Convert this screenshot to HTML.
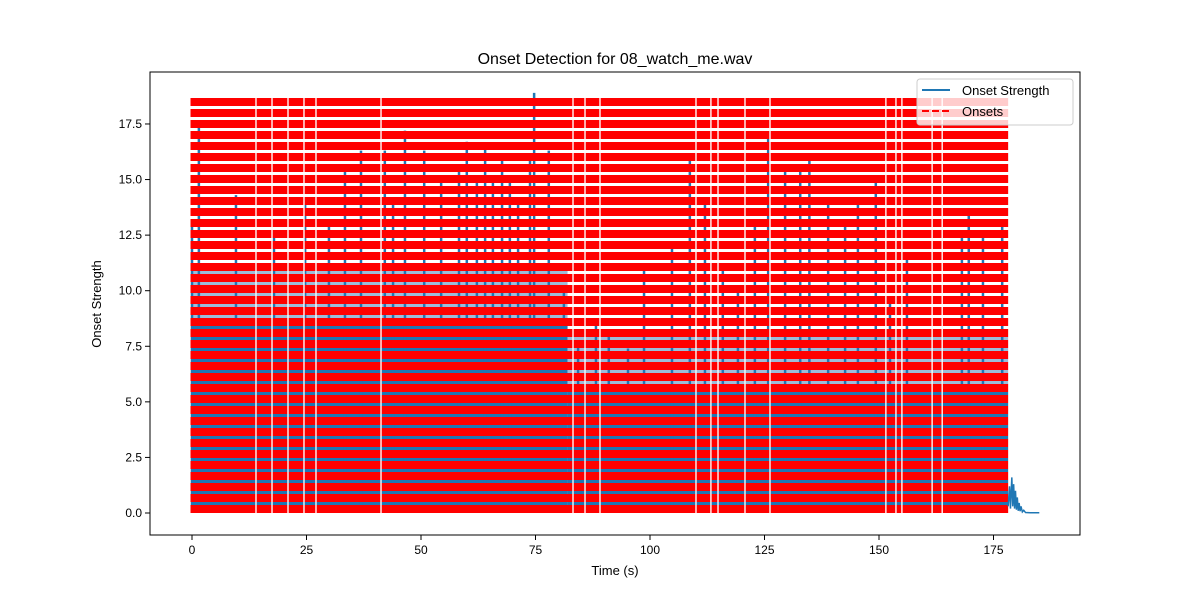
<!DOCTYPE html>
<html><head><meta charset="utf-8"><style>
body{margin:0;background:#fff;}
svg{display:block;font-family:"Liberation Sans","DejaVu Sans",sans-serif;}
</style></head><body>
<svg id="chart" width="1200" height="600" viewBox="0 0 1200 600">
<rect width="1200" height="600" fill="#fff"/>
<g id="plot"></g>
<g id="axes"></g>
</svg>
<script>
const xTicks=[0,25,50,75,100,125,150,175];
const yTicks=[0,2.5,5,7.5,10,12.5,15,17.5];
const onsetStart=0, onsetEnd=178.2, onsetTop=18.8;
const onsetGaps=[13.97,17.47,20.96,24.45,27.07,41.27,83.19,85.81,89.08,110.04,113.3,114.85,120.74,126.2,151.5,153.7,155.0,161.6,163.8];
const denseSegments=[[0,82],[82,178.2]];
const denseLevels=[8.5,5.5];
const mixedLevels=[11,8];
const peakTimes=[0,1.5,9.6,17.9,21.4,24.7,29.9,33.4,36.9,42.1,43.9,46.5,50.7,54.4,58.3,60.0,62.2,64.0,65.7,67.7,69.4,71.2,73.8,74.7,77.9,81.2,84.3,88.2,91.0,95.2,98.7,104.8,108.7,112.0,115.9,119.2,122.9,125.8,129.5,132.8,134.8,138.9,142.6,145.4,149.3,152.4,156.1,168.1,169.6,172.7,176.9];
const peakValues=[13.2,17.4,14.3,12.5,8.2,13.9,13.2,15.4,16.3,16.3,14.0,17.2,16.3,14.9,15.4,16.7,14.9,16.5,14.9,16.1,15.1,13.9,16.1,18.9,16.3,10.0,7.5,8.7,8.0,7.4,10.9,12.1,16.1,13.9,10.9,10.0,13.2,17.1,15.7,15.7,15.9,14.0,13.2,14.0,14.9,9.6,11.4,12.7,13.4,12.5,13.2];
const tailTimes=[178.2,178.5,178.7,179.0,179.2,179.4,179.6,179.8,180.0,180.2,180.4,180.6,180.8,181.0,181.3,181.6,182,183,184,185];
const tailValues=[0.3,1.2,0.2,1.6,0.3,1.3,0.2,1.0,0.15,0.7,0.1,0.45,0.08,0.3,0.05,0.12,0.02,0.01,0.01,0.01];

const X0=150,X1=1080,Y0=72,Y1=535;
const xs=t=>192+t*4.58;
const ys=v=>513-v*22.23;
const NS="http://www.w3.org/2000/svg";
function mk(tag,attrs,parent){const e=document.createElementNS(NS,tag);for(const k in attrs)e.setAttribute(k,attrs[k]);parent.appendChild(e);return e;}
const plot=document.getElementById('plot'), axes=document.getElementById('axes');
const topY=ys(onsetTop), botY=ys(0);
const nDash=Math.ceil((botY-topY)/11);
denseSegments.forEach((seg,i)=>{
  for(let k=0;k<nDash;k++){
    const yg=botY-11*k-11, h=3;
    if(yg<topY) break;
    const v=(botY-yg)/22.23;
    let col=null;
    if(v<denseLevels[i]) col='#1f77b4'; else if(v<mixedLevels[i]) col='#9dbcd9';
    if(col){
      const r=mk('rect',{x:xs(seg[0]),y:yg,width:xs(seg[1])-xs(seg[0]),height:h,fill:col},plot);
      
      
    }
  }
});
peakTimes.forEach((t,i)=>{
  const l=mk('line',{x1:xs(t),x2:xs(t),y1:ys(0),y2:ys(peakValues[i]),stroke:'#1f77b4','stroke-width':2.5},plot);
  
  
});
for(let k=0;k<nDash;k++){
  const yb=botY-11*k, yt=Math.max(topY,yb-8);
  if(yb<=topY) break;
  const r=mk('rect',{x:xs(onsetStart)-1.5,y:yt,width:xs(onsetEnd)-xs(onsetStart)+1.5,height:yb-yt,fill:'#ff0000'},plot);
  
  
}
onsetGaps.forEach(t=>{
  const l=mk('line',{x1:xs(t),x2:xs(t),y1:topY,y2:botY,stroke:'#fff','stroke-width':1.5,opacity:0.9},plot);
  
  
});
const tail=mk('polyline',{points:tailTimes.map((t,i)=>xs(t)+','+ys(tailValues[i])).join(' '),fill:'none',stroke:'#1f77b4','stroke-width':1.5},plot);


const fr=mk('rect',{x:X0,y:Y0,width:X1-X0,height:Y1-Y0,fill:'none',stroke:'#000','stroke-width':1},axes);


xTicks.forEach(t=>{
  mk('line',{x1:xs(t),x2:xs(t),y1:Y1,y2:Y1+5,stroke:'#000'},axes);
  const tx=mk('text',{x:xs(t),y:Y1+19,'font-size':12,'text-anchor':'middle'},axes);
  tx.textContent=t;
  
  
});
yTicks.forEach(v=>{
  mk('line',{x1:X0-5,x2:X0,y1:ys(v),y2:ys(v),stroke:'#000'},axes);
  const tx=mk('text',{x:X0-8,y:ys(v)+4,'font-size':12,'text-anchor':'end'},axes);
  tx.textContent=v.toFixed(1);
  
  
});
</script>
<svg style="position:absolute;left:0;top:0" width="1200" height="600">
<text x="615" y="64" font-size="16" text-anchor="middle" font-family="Liberation Sans, sans-serif">Onset Detection for 08_watch_me.wav</text>
<text x="615" y="575" font-size="13" text-anchor="middle" font-family="Liberation Sans, sans-serif">Time (s)</text>
<text transform="translate(101,304) rotate(-90)" font-size="13" text-anchor="middle" font-family="Liberation Sans, sans-serif">Onset Strength</text>
<g>
<rect x="917" y="79" width="156" height="46" rx="3" fill="#fff" fill-opacity="0.8" stroke="#ccc"/>
<line x1="922" y1="90" x2="950" y2="90" stroke="#1f77b4" stroke-width="2"/>
<text x="962" y="95" font-size="13" font-family="Liberation Sans, sans-serif">Onset Strength</text>
<line x1="922" y1="111" x2="950" y2="111" stroke="#ff0000" stroke-width="2" stroke-dasharray="7,3"/>
<text x="962" y="116" font-size="13" font-family="Liberation Sans, sans-serif">Onsets</text>
</g>
</svg>
</body></html>
